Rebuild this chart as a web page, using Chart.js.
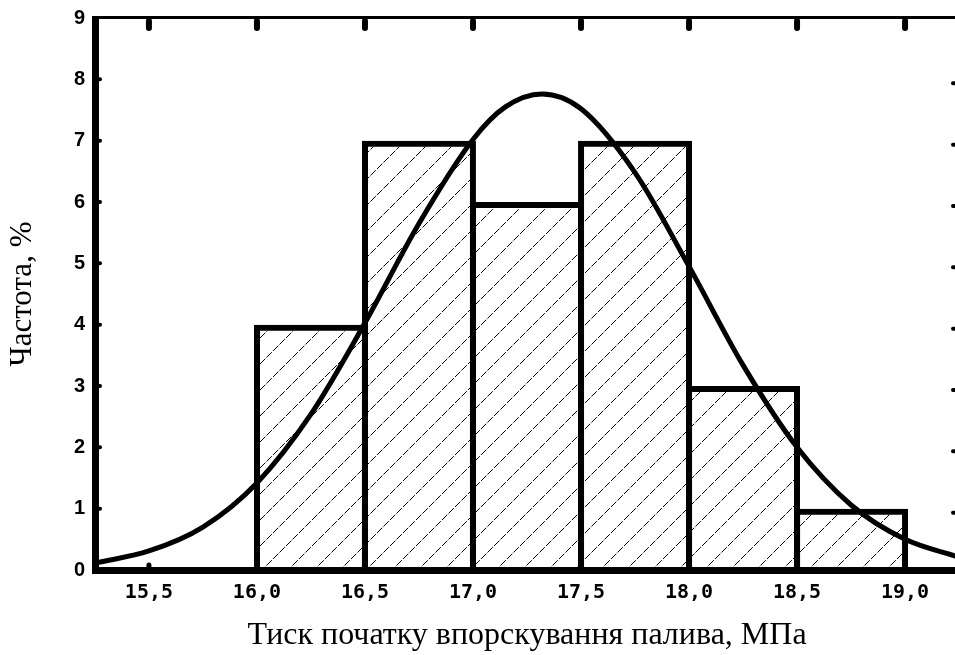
<!DOCTYPE html>
<html>
<head>
<meta charset="utf-8">
<script src="https://cdn.jsdelivr.net/npm/chart.js@4.4.1/dist/chart.umd.min.js"></script>
<style>
  html, body { margin: 0; padding: 0; background: #fff; overflow: hidden; }
  #wrap { width: 962px; height: 655px; position: relative; }
</style>
</head>
<body>
<div id="wrap"><canvas id="c"></canvas></div>
<script>
// Histogram bins (centres of 0.5 MPa classes) and frequencies
const binCenters = [16.25, 16.75, 17.25, 17.75, 18.25, 18.75];
const frequencies = [4, 7, 6, 7, 3, 1];

// Fitted normal curve
const curveX = [15.26, 15.5, 15.75, 16.0, 16.25, 16.5, 16.75, 17.0, 17.15, 17.32, 17.5, 17.75, 18.0, 18.25, 18.5, 18.75, 19.0, 19.25];
const curveY = [0.12, 0.31, 0.70, 1.42, 2.54, 4.03, 5.65, 7.02, 7.55, 7.76, 7.52, 6.48, 4.95, 3.34, 2.00, 1.06, 0.50, 0.21];

// Tick labels
const xTickValues = [15.5, 16.0, 16.5, 17.0, 17.5, 18.0, 18.5, 19.0];
const xTickLabels = ['15,5', '16,0', '16,5', '17,0', '17,5', '18,0', '18,5', '19,0'];
const yTickLabels = ['0', '1', '2', '3', '4', '5', '6', '7', '8', '9'];

const xTitle = 'Тиск початку впорскування палива, МПа';
const yTitle = 'Частота, %';

function makeHatch() {
  const s = 26;
  const c = document.createElement('canvas');
  c.width = s; c.height = s;
  const g = c.getContext('2d');
  g.strokeStyle = '#000';
  g.lineWidth = 1;
  g.setLineDash([7.5, 1.69]);
  g.beginPath();
  g.moveTo(0, s); g.lineTo(s, 0);
  g.stroke();
  g.setLineDash([]);
  g.beginPath();
  g.moveTo(-1, 1); g.lineTo(1, -1);
  g.moveTo(s - 1, s + 1); g.lineTo(s + 1, s - 1);
  g.stroke();
  return g.createPattern(c, 'repeat');
}

const framePlugin = {
  id: 'frame',
  afterDatasetsDraw(chart) {
    const ctx = chart.ctx;
    const a = chart.chartArea;
    const xs = chart.scales.x, ys = chart.scales.y;
    ctx.save();
    ctx.strokeStyle = '#000';
    ctx.lineCap = 'butt';
    // top border
    ctx.lineWidth = 3;
    ctx.beginPath(); ctx.moveTo(a.left, a.top - 0.5); ctx.lineTo(a.right + 2, a.top - 0.5); ctx.stroke();
    // right border
    ctx.beginPath(); ctx.moveTo(a.right, a.top - 2); ctx.lineTo(a.right, a.bottom + 3); ctx.stroke();
    // left axis
    ctx.lineWidth = 7;
    ctx.beginPath(); ctx.moveTo(a.left - 0.5, a.top - 2); ctx.lineTo(a.left - 0.5, a.bottom + 4); ctx.stroke();
    // bottom axis
    ctx.beginPath(); ctx.moveTo(a.left - 4, a.bottom + 0.5); ctx.lineTo(a.right + 2, a.bottom + 0.5); ctx.stroke();
    // ticks
    ctx.lineCap = 'round';
    xTickValues.forEach(v => {
      const px = xs.getPixelForValue(v);
      ctx.lineWidth = 6;
      ctx.beginPath(); ctx.moveTo(px, a.top + 3); ctx.lineTo(px, a.top + 10); ctx.stroke();
      ctx.lineWidth = 5;
      ctx.beginPath(); ctx.moveTo(px, a.bottom - 3); ctx.lineTo(px, a.bottom - 5); ctx.stroke();
    });
    for (let i = 1; i < yTickLabels.length - 1; i++) {
      const py = ys.getPixelForValue(i);
      ctx.lineWidth = 4;
      ctx.beginPath(); ctx.moveTo(a.left + 2, py); ctx.lineTo(a.left + 4, py); ctx.stroke();
      ctx.beginPath(); ctx.moveTo(a.right - 3, py + 4); ctx.lineTo(a.right - 5, py + 4); ctx.stroke();
    }
    ctx.restore();
  }
};

const hatch = makeHatch();

new Chart(document.getElementById('c'), {
  type: 'bar',
  data: {
    datasets: [
      {
        type: 'line',
        data: curveX.map((x, i) => ({ x: x, y: curveY[i] })),
        borderColor: '#000',
        borderWidth: 5,
        pointRadius: 0,
        fill: false,
        cubicInterpolationMode: 'monotone',
        order: 0
      },
      {
        type: 'bar',
        data: binCenters.map((x, i) => ({ x: x, y: frequencies[i] })),
        backgroundColor: hatch,
        borderColor: '#000',
        borderWidth: 6,
        barPercentage: 1.055,
        categoryPercentage: 1,
        order: 1
      }
    ]
  },
  options: {
    responsive: true,
    maintainAspectRatio: false,
    animation: false,
    layout: { padding: { top: 18, right: 4, left: 0, bottom: 0 } },
    plugins: { legend: { display: false }, tooltip: { enabled: false } },
    scales: {
      x: {
        type: 'linear',
        offset: false,
        min: 15.255,
        max: 19.245,
        grid: { display: false, drawTicks: false },
        border: { display: false },
        afterBuildTicks(scale) { scale.ticks = xTickValues.map(v => ({ value: v })); },
        afterFit(scale) { scale.height = 85; scale.paddingLeft = 0; scale.paddingRight = 0; },
        ticks: {
          autoSkip: false,
          maxRotation: 0,
          padding: 11,
          color: '#000',
          font: { family: 'DejaVu Sans Mono', size: 20, weight: 'bold' },
          callback: (v, i) => xTickLabels[i]
        },
        title: {
          display: true,
          text: xTitle,
          color: '#000',
          font: { family: 'Liberation Serif', size: 32 },
          padding: { top: 0, bottom: 0 }
        }
      },
      y: {
        min: 0,
        max: 9,
        grid: { display: false, drawTicks: false },
        border: { display: false },
        afterFit(scale) { scale.width = 96; scale.paddingTop = 0; scale.paddingBottom = 0; },
        ticks: {
          stepSize: 1,
          padding: 11,
          color: '#000',
          font: { family: 'Liberation Sans', size: 20, weight: 'bold' },
          callback: (v) => yTickLabels[v]
        },
        title: {
          display: true,
          text: yTitle,
          color: '#000',
          font: { family: 'Liberation Serif', size: 31 },
          padding: { top: 4, bottom: 0 }
        }
      }
    }
  },
  plugins: [framePlugin]
});
</script>
</body>
</html>
